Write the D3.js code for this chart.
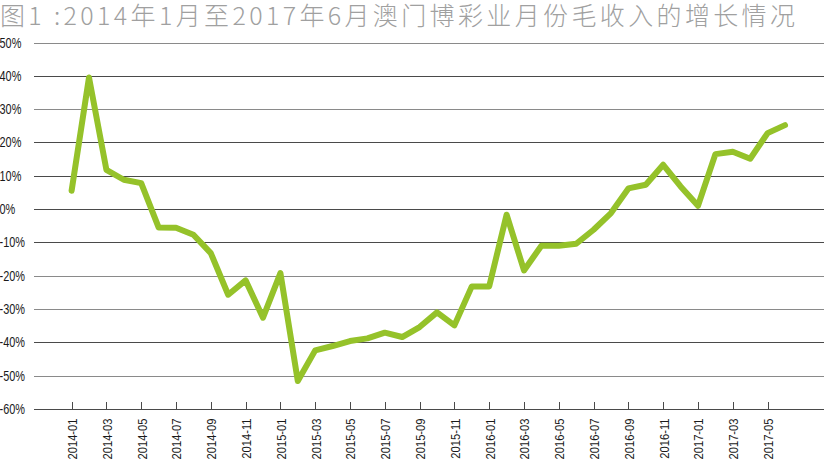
<!DOCTYPE html>
<html>
<head>
<meta charset="utf-8">
<script src="https://cdn.jsdelivr.net/npm/d3@7"></script>
<style>
  html, body { margin: 0; padding: 0; background: #fff; }
  svg { display: block; }
</style>
</head>
<body>
<svg id="chart" width="825" height="460"></svg>
<script>
const titleText = "图1 :2014年1月至2017年6月澳门博彩业月份毛收入的增长情况";

const months = [
  "2014-01","2014-02","2014-03","2014-04","2014-05","2014-06","2014-07","2014-08","2014-09","2014-10","2014-11","2014-12",
  "2015-01","2015-02","2015-03","2015-04","2015-05","2015-06","2015-07","2015-08","2015-09","2015-10","2015-11","2015-12",
  "2016-01","2016-02","2016-03","2016-04","2016-05","2016-06","2016-07","2016-08","2016-09","2016-10","2016-11","2016-12",
  "2017-01","2017-02","2017-03","2017-04","2017-05","2017-06"
];

// Year-on-year growth of monthly gross gaming revenue (%)
const growth = [
  5.5, 39.5, 11.8, 8.8, 7.8, -5.5, -5.6, -7.7, -13.2, -25.7, -21.4, -32.6,
  -19.2, -51.6, -42.4, -41.1, -39.6, -38.8, -37.1, -38.4, -35.4, -31.0, -34.9, -23.2,
  -23.2, -1.7, -18.4, -11.0, -11.0, -10.4, -6.2, -1.2, 6.2, 7.3, 13.3, 6.8,
  1.0, 16.5, 17.2, 15.1, 22.8, 25.2
];

const yTicks = [50, 40, 30, 20, 10, 0, -10, -20, -30, -40, -50, -60];
const xTickLabels = months.filter((m, i) => i % 2 === 0 && i < 41);

const svg = d3.select("#chart");

const gridLeft = 34, gridRight = 824;
const x = d3.scalePoint().domain(months).range([71.6, 785]);
const y = d3.scaleLinear().domain([-60, 50]).range([409, 42.5]);

// Title
svg.append("text")
  .attr("x", 0)
  .attr("y", 25)
  .attr("font-family", "'Noto Sans CJK SC', 'Noto Sans', sans-serif")
  .attr("font-size", 25)
  .attr("font-weight", 300)
  .attr("fill", "#a0a0a0")
  .attr("textLength", 795)
  .attr("lengthAdjust", "spacing")
  .text(titleText);

// Gridlines
const lightTicks = new Set([50, 30, -20, -30, -50]);
svg.append("g")
  .selectAll("line")
  .data(yTicks)
  .join("line")
  .attr("x1", gridLeft)
  .attr("x2", gridRight)
  .attr("y1", d => Math.round(y(d)) + 0.5)
  .attr("y2", d => Math.round(y(d)) + 0.5)
  .attr("stroke", d => lightTicks.has(d) ? "#8a8a8a" : "#4a4a4a")
  .attr("stroke-width", d => lightTicks.has(d) ? 1.4 : 1)
  .attr("shape-rendering", "crispEdges");

// Y labels (left aligned, condensed)
svg.append("g")
  .selectAll("text")
  .data(yTicks)
  .join("text")
  .attr("font-family", "'Liberation Sans', Arial, sans-serif")
  .attr("font-size", 14)
  .attr("fill", "#1a1a1a")
  .attr("transform", d => `translate(-0.5,${y(d) + 5}) scale(0.78,1)`)
  .text(d => d + "%");

// X axis ticks & labels
const xAxis = d3.axisBottom(x)
  .tickValues(xTickLabels)
  .tickSize(-8)
  .tickSizeOuter(0)
  .tickPadding(0)
  .tickFormat(d => d);

const gx = svg.append("g")
  .attr("transform", `translate(0,${Math.round(y(-60)) + 0.5})`)
  .call(xAxis);
gx.select(".domain").remove();
gx.selectAll(".tick line").attr("stroke", "#4a4a4a").attr("shape-rendering", "crispEdges");
gx.selectAll(".tick text")
  .attr("font-family", "'Liberation Sans', Arial, sans-serif")
  .attr("font-size", 13)
  .attr("fill", "#1a1a1a")
  .attr("text-anchor", "end")
  .attr("dy", null)
  .attr("y", 0)
  .attr("transform", "translate(4.8,9) rotate(-90) scale(0.86,1)");

// Line
const line = d3.line()
  .x((d, i) => x(months[i]))
  .y(d => y(d));

svg.append("path")
  .datum(growth)
  .attr("d", line)
  .attr("fill", "none")
  .attr("stroke", "#95c22a")
  .attr("stroke-width", 6)
  .attr("stroke-linejoin", "round")
  .attr("stroke-linecap", "round");
</script>
</body>
</html>
